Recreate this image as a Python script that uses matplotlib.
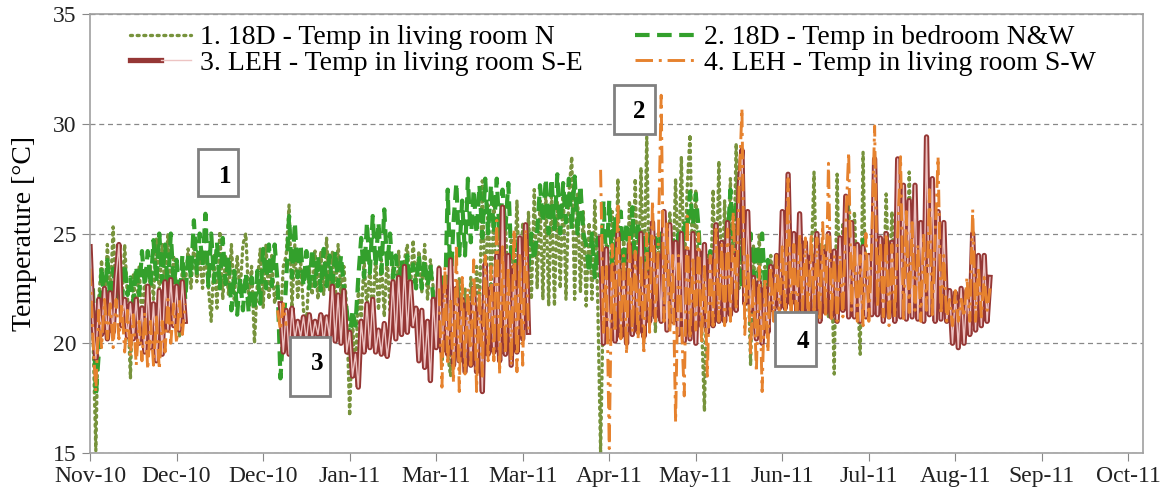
import matplotlib
matplotlib.use('Agg')
import matplotlib.pyplot as plt
from matplotlib.patches import Rectangle
from matplotlib.legend_handler import HandlerTuple
import numpy as np

nan = np.nan

# time axis: days since 1 Nov 2010, one reading per day
days = np.arange(313)

tick_days = [0, 30, 60, 90, 120, 150, 180, 210, 240, 270, 300, 330, 360]
tick_labels = ['Nov-10', 'Dec-10', 'Dec-10', 'Jan-11', 'Mar-11', 'Mar-11', 'Apr-11',
               'May-11', 'Jun-11', 'Jul-11', 'Aug-11', 'Sep-11', 'Oct-11']

# 1. 18D - living room N
temp_18d_living = [
    24.2, 20.5, 15.1, 22.0, 23.8, 21.5, 24.5, 22.0, 25.3, 22.0,   # day 0
    24.6, 21.8, 24.5, 22.0, 18.4, 23.2, 21.2, 23.5, 21.0, 23.0,
    21.5, 23.5, 22.0, 24.8, 22.3, 24.5, 22.4, 25.0, 22.2, 24.0,
    22.4, 20.3, 23.5, 22.6, 24.3, 22.5, 24.5, 22.8, 24.0, 22.5,
    24.2, 22.6, 21.0, 24.0, 21.6, 25.1, 22.0, 24.0, 22.2, 24.5,   # day 40
    22.0, 24.0, 22.3, 24.5, 25.0, 22.0, 23.5, 20.0, 22.8, 24.3,
    21.6, 24.5, 22.0, 24.0, 21.8, 22.8, 21.0, 23.5, 24.0, 26.3,
    21.6, 24.5, 22.0, 23.8, 21.5, 20.8, 23.5, 22.2, 24.2, 22.0,
    24.2, 22.2, 24.8, 22.4, 24.2, 22.0, 24.5, 22.2, 23.5, 21.5,   # day 80
    16.7, 21.0, 18.5, 22.5, 21.0, 23.8, 21.5, 23.5, 21.2, 24.0,
    21.5, 23.8, 21.2, 24.0, 21.5, 23.5, 21.2, 24.2, 22.0, 23.8,
    24.5, 22.2, 24.7, 22.5, 24.2, 22.3, 24.5, 22.0, 23.8, 22.5,
    20.0, 23.5, 19.0, 22.8, 19.5, 18.5, 22.5, 19.5, 23.0, 19.2,   # day 120
    22.5, 19.5, 23.0, 21.0, 23.5, 21.5, 27.4, 22.0, 26.3, 22.5,
    26.3, 21.6, 25.5, 22.0, 25.8, 21.8, 24.8, 22.5, 26.5, 22.0,
    25.5, 21.7, 26.0, 22.0, 27.0, 22.5, 26.5, 22.0, 27.0, 21.7,
    27.0, 21.7, 26.5, 22.5, 27.2, 22.0, 26.8, 28.5, 22.0, 26.8,   # day 160
    22.3, 26.0, 21.7, 25.5, 22.0, 26.5, 22.0, 15.0, 22.5, 24.5,
    21.0, 26.0, 21.5, 27.5, 20.5, 25.0, 21.5, 26.5, 22.0, 27.5,
    22.0, 28.0, 22.5, 29.4, 21.8, 24.5, 20.5, 25.0, 21.0, 24.0,
    22.5, 26.0, 23.0, 27.5, 23.0, 28.5, 23.2, 27.0, 29.5, 22.5,   # day 200
    27.0, 22.5, 21.0, 16.9, 24.0, 21.5, 27.0, 22.0, 28.3, 22.0,
    26.5, 22.0, 27.5, 22.5, 29.1, 22.5, 25.0, 22.0, 24.0, 19.0,
    24.5, 20.5, 25.0, 20.5, 23.5, 21.5, 24.0, 21.5, 23.8, 21.8,
    24.0, 21.5, 23.5, 22.0, 24.0, 21.8, 23.5, 22.0, 24.0, 22.0,   # day 240
    23.5, 27.8, 21.8, 24.5, 22.0, 24.5, 21.2, 23.5, 18.6, 27.7,
    21.5, 25.5, 21.5, 26.7, 22.0, 26.0, 22.5, 19.5, 28.7, 21.5,
    24.0, 21.5, 24.0, 22.0, 23.5, 22.0, 26.8, 22.5, 26.0, 22.0,
    26.0, 22.5, 25.5, 22.0, 27.8, 22.0, 24.0, nan, nan, nan,      # day 280
    nan, nan, nan, nan, nan, nan, nan, nan, nan, nan,
    nan, nan, nan, nan, nan, nan, nan, nan, nan, nan,
    nan, nan, nan,
]

# 2. 18D - bedroom N&W
temp_18d_bedroom = [
    nan, 22.5, 17.6, 19.5, 23.5, 21.5, 23.8, 22.0, 23.4, 21.8,   # day 0
    23.4, 21.8, 23.6, 22.2, 23.0, 21.8, 23.5, 22.2, 24.2, 22.6,
    24.2, 22.6, 24.7, 22.8, 25.0, 22.8, 24.5, 22.5, 25.0, 22.6,
    23.8, 21.6, 24.0, 22.0, 24.0, 23.0, 25.6, 23.2, 25.0, 23.5,
    25.9, 22.6, 25.0, 22.8, 24.6, 22.5, 24.8, 22.7, 24.0, 21.5,   # day 40
    23.3, 21.3, 23.0, 21.5, 23.2, 21.4, 23.0, 21.5, 23.3, 21.8,
    24.3, 22.5, 24.5, 22.6, 24.5, 22.8, 18.4, 20.5, 22.8, 25.8,
    23.0, 25.5, 23.0, 24.5, 22.6, 24.2, 22.5, 24.3, 22.6, 24.0,
    22.4, 24.3, 22.6, 24.0, 22.5, 24.2, 22.6, 24.0, 22.5, 21.5,   # day 80
    20.2, 21.5, 20.8, 23.0, 24.8, 23.0, 25.5, 23.2, 25.8, 23.5,
    25.5, 23.2, 26.1, 23.5, 25.0, 23.0, 24.0, 22.5, 23.8, 22.6,
    24.0, 22.4, 23.6, 22.5, 24.0, 22.5, 23.8, 22.6, 23.6, 22.0,
    20.5, 22.0, 23.0, 21.5, 27.0, 22.5, 25.5, 27.3, 24.0, 26.5,   # day 120
    24.0, 27.5, 24.6, 27.0, 25.0, 27.2, 24.8, 27.5, 25.0, 27.2,
    25.0, 27.5, 24.8, 27.0, 25.2, 27.3, 24.0, 21.8, 24.5, 22.0,
    24.2, 21.8, 23.5, 25.0, 23.8, 25.0, 27.2, 25.5, 27.5, 25.0,
    27.5, 25.2, 27.7, 25.0, 27.3, 25.5, 27.5, 25.2, 27.6, 25.0,   # day 160
    27.2, 25.0, 24.5, 23.2, 25.0, 23.0, 24.8, 23.0, 26.5, 23.5,
    26.5, 23.5, 25.8, 23.2, 26.0, 23.5, 25.5, 23.0, 26.2, 23.2,
    25.5, 23.0, 24.8, 23.2, 25.0, 23.0, 24.8, 23.2, 25.0, 23.0,
    24.8, 23.0, 24.8, 23.2, 25.0, 23.5, 25.6, 25.0, 26.9, 25.4,   # day 200
    26.8, 25.2, 22.5, 24.5, 22.0, 24.2, 22.2, 24.5, 22.0, 24.2,
    22.5, 24.5, 27.0, 24.5, 26.5, 24.8, 22.5, 24.8, 22.8, 25.0,
    22.5, 24.5, 23.0, 25.0, 22.5, 23.8, 22.0, 23.5, 22.2, 23.8,
    22.0, 23.5, 22.5, 24.0, 22.2, 23.8, 22.0, 24.0, 22.5, 23.6,   # day 240
    22.0, 24.0, 22.5, 23.8, 22.0, 23.6, 22.2, 24.0, 22.5, 23.5,
    22.0, 24.0, 22.5, 24.7, 23.5, 22.0, 23.0, 22.2, 24.7, 23.5,
    22.0, 23.0, 22.2, 23.5, 21.8, 23.0, 22.5, 23.5, 21.8, 23.0,
    22.5, 23.2, 21.8, 23.0, 22.0, 23.0, 22.0, nan, nan, nan,      # day 280
    nan, nan, nan, nan, nan, nan, nan, nan, nan, nan,
    nan, nan, nan, nan, nan, nan, nan, nan, nan, nan,
    nan, nan, nan,
]

# 3. LEH - living room S-E
temp_leh_se = [
    24.4, 21.0, 19.3, 22.0, 20.4, 22.5, 20.2, 22.3, 20.5, 23.0,   # day 0
    24.5, 20.8, 22.0, 20.3, 21.8, 20.2, 22.0, 20.0, 21.6, 19.6,
    22.6, 19.8, 21.8, 19.2, 22.4, 19.5, 22.8, 20.6, 22.9, 20.8,
    22.6, 20.6, 22.8, 21.0, nan, nan, nan, nan, nan, nan,
    nan, nan, nan, nan, nan, nan, nan, nan, nan, nan,             # day 40
    nan, nan, nan, nan, nan, nan, nan, nan, nan, nan,
    nan, nan, nan, nan, nan, nan, 21.8, 19.6, 21.5, 19.5,
    21.6, 20.2, 21.0, 20.3, 21.2, 20.1, 21.3, 20.2, 21.0, 20.4,
    21.3, 20.0, 21.2, 20.3, 22.6, 20.1, 22.2, 20.0, 22.4, 19.6,   # day 80
    20.5, 18.5, 19.5, 18.0, 21.0, 19.6, 21.8, 19.8, 22.0, 19.6,
    20.6, 19.5, 20.9, 19.4, 20.5, 22.8, 20.2, 23.0, 20.4, 23.5,
    20.5, 22.8, 20.8, 21.6, 19.2, 21.5, 18.9, 21.0, 18.3, 22.0,
    19.8, 23.4, 19.6, 22.6, 19.5, 23.8, 19.0, 22.5, 19.2, 22.0,   # day 120
    18.7, 21.8, 19.0, 22.5, 18.7, 21.6, 17.8, 23.6, 19.5, 22.5,
    19.6, 24.0, 19.2, 26.2, 19.5, 24.0, 19.0, 23.5, 19.6, 24.8,
    20.2, 25.4, 20.5, nan, nan, nan, nan, nan, nan, nan,
    nan, nan, nan, nan, nan, nan, nan, nan, nan, nan,             # day 160
    nan, nan, nan, nan, nan, nan, nan, 24.8, 20.0, 24.3,
    20.2, 23.5, 20.1, 25.0, 20.3, 23.2, 20.0, 24.5, 20.4, 24.0,
    20.5, 25.0, 20.3, 23.2, 21.0, 25.5, 21.2, 24.0, 21.0, 26.0,
    20.6, 25.4, 21.0, 24.6, 20.4, 25.0, 20.1, 24.2, 20.2, 25.0,   # day 200
    20.0, 24.2, 20.8, 24.5, 20.5, 23.8, 20.8, 25.4, 21.0, 24.6,
    21.0, 25.5, 21.3, 24.0, 21.5, 27.0, 28.8, 21.8, 26.0, 21.5,
    23.0, 20.2, 22.8, 20.0, 22.5, 20.5, 23.5, 21.5, 24.0, 21.6,
    26.0, 21.6, 27.7, 21.8, 25.0, 21.5, 25.9, 21.2, 24.6, 20.6,   # day 240
    24.0, 20.9, 25.0, 21.0, 24.2, 21.4, 25.0, 21.2, 24.2, 21.0,
    24.8, 21.5, 26.7, 21.2, 25.5, 21.2, 24.5, 21.0, 24.4, 21.2,
    24.0, 21.3, 28.4, 21.3, 24.8, 21.0, 25.0, 21.2, 24.6, 21.0,
    28.4, 21.2, 27.2, 21.1, 26.5, 21.2, 27.2, 21.1, 25.5, 21.0,   # day 280
    29.4, 21.3, 27.5, 21.0, 26.0, 21.1, 25.5, 21.0, 22.4, 20.0,
    22.3, 19.8, 22.5, 20.0, 22.4, 20.4, 25.0, 20.6, 24.0, 20.8,
    24.0, 21.0, 23.0,
]

# 4. LEH - living room S-W
temp_leh_sw = [
    23.4, 20.2, 17.8, 21.5, 19.8, 22.0, 20.2, 21.8, 19.8, 22.0,   # day 0
    20.2, 21.8, 19.6, 21.5, 19.4, 21.3, 19.0, 21.0, 19.2, 21.4,
    18.8, 21.0, 19.0, 21.2, 18.8, 21.0, 19.6, 22.0, 20.0, 21.8,
    20.0, 22.0, 20.4, 21.8, nan, nan, nan, nan, nan, nan,
    nan, nan, nan, nan, nan, nan, nan, nan, nan, nan,             # day 40
    nan, nan, nan, nan, nan, nan, nan, nan, nan, nan,
    nan, nan, nan, nan, nan, 21.5, 20.6, 21.8, 20.8, nan,
    nan, nan, nan, nan, nan, nan, nan, nan, nan, nan,
    nan, nan, nan, nan, nan, nan, nan, nan, nan, nan,             # day 80
    nan, nan, nan, nan, nan, nan, nan, nan, nan, nan,
    nan, nan, nan, nan, nan, nan, nan, nan, nan, nan,
    nan, nan, nan, nan, nan, nan, nan, nan, nan, nan,
    nan, 22.5, 18.0, 23.5, 19.0, 22.0, 18.2, 24.5, 17.8, 23.0,    # day 120
    18.6, 22.5, 19.0, 23.8, 17.8, 22.5, 18.5, 24.0, 19.2, 23.5,
    19.2, 25.6, 18.6, 24.4, 19.5, 23.5, 19.0, 25.2, 18.7, 24.0,
    19.0, 25.2, 20.5, nan, nan, nan, nan, nan, nan, nan,
    nan, nan, nan, nan, nan, nan, nan, nan, nan, nan,             # day 160
    nan, nan, nan, nan, nan, nan, nan, 27.9, 20.5, 23.5,
    15.2, 24.5, 20.5, 26.4, 20.2, 24.0, 19.5, 25.0, 20.5, 24.2,
    20.2, 24.0, 19.5, 25.0, 20.5, 26.5, 21.0, 24.5, 31.3, 21.0,
    25.5, 20.5, 24.0, 16.4, 24.0, 21.0, 17.6, 25.8, 20.2, 23.8,   # day 200
    20.6, 25.0, 20.0, 23.5, 18.5, 24.0, 20.8, 25.2, 21.0, 24.5,
    20.8, 25.2, 21.0, 26.0, 21.5, 27.0, 30.7, 20.4, 24.0, 19.5,
    23.0, 18.7, 23.5, 17.8, 23.0, 19.6, 23.5, 21.0, 24.0, 21.2,
    24.5, 21.0, 27.5, 21.0, 24.5, 20.8, 25.0, 21.5, 24.8, 21.0,   # day 240
    25.0, 21.5, 24.8, 21.0, 25.5, 21.2, 28.2, 21.0, 24.0, 21.0,
    24.0, 21.2, 25.5, 28.7, 21.5, 24.5, 21.0, 24.0, 20.8, 25.0,
    21.0, 24.5, 29.9, 21.6, 24.6, 21.2, 25.0, 20.8, 24.5, 21.2,
    25.0, 28.5, 21.0, 26.0, 21.4, 25.5, 21.5, 24.5, 21.0, 25.0,   # day 280
    21.5, 27.0, 21.3, 25.0, 28.5, 21.3, 24.0, 21.0, 22.0, 20.8,
    22.4, 21.0, 22.0, 21.2, 23.0, 21.0, 26.1, 21.0, 23.5, 21.2,
    23.0, 21.5, 22.5,
]

c_olive = '#77933C'
c_green = '#33A02C'
c_red = '#953735'
c_pink = '#EDC4C3'
c_orange = '#E6822E'

plt.rcParams['font.family'] = ['Liberation Serif', 'DejaVu Serif']

fig = plt.figure(figsize=(11.65, 4.95), dpi=100)
ax = fig.add_axes([0.0773, 0.0848, 0.9037, 0.8869])

l1, = ax.plot(days, temp_18d_living, color=c_olive, lw=2.4,
              linestyle=(0, (0.6, 1.4)), dash_capstyle='round')
l2, = ax.plot(days, temp_18d_bedroom, color=c_green, lw=3.0,
              linestyle=(0, (3.5, 1.8)))
l3a, = ax.plot(days, temp_leh_se, color=c_red, lw=3.8)
l3b, = ax.plot(days, temp_leh_se, color=c_pink, lw=1.0)
l4, = ax.plot(days, temp_leh_sw, color=c_orange, lw=2.1,
              linestyle=(0, (6, 2, 1, 2)))

ax.set_xlim(0, 365)
ax.set_ylim(15, 35)
ax.set_xticks(tick_days)
ax.set_xticklabels(tick_labels)
ax.set_yticks([15, 20, 25, 30, 35])
ax.tick_params(axis='both', labelsize=17, length=6, color='#888888',
               labelcolor='#222222', direction='out')
ax.set_ylabel('Temperature [°C]', fontsize=20)
ax.yaxis.set_label_coords(-0.05, 0.5)

ax.set_axisbelow(True)
ax.yaxis.grid(True, color='#888888', lw=0.9, linestyle=(0, (4, 3)))
for sp in ax.spines.values():
    sp.set_color('#A0A0A0')
    sp.set_linewidth(1.2)

leg = ax.legend([l1, (l3a, l3b), l2, l4],
                ['1. 18D - Temp in living room N',
                 '3. LEH - Temp in living room S-E',
                 '2. 18D - Temp in bedroom N&W',
                 '4. LEH - Temp in living room S-W'],
                handler_map={tuple: HandlerTuple(ndivide=None, pad=0)},
                ncol=2, frameon=False, fontsize=20, loc='upper left',
                bbox_to_anchor=(0.038, 0.975), handlelength=2.2,
                handletextpad=0.3, columnspacing=1.9, labelspacing=0.0,
                borderaxespad=0, borderpad=0)

# numbered boxes
boxes = [('1', 37.4, 26.7, 13.8, 2.15, 46.8, 27.6),
         ('2', 181.5, 29.55, 14.5, 2.2, 190.5, 30.55),
         ('3', 69.3, 17.6, 14.0, 2.68, 78.6, 19.1),
         ('4', 237.6, 18.95, 14.2, 2.47, 247.0, 20.1)]
for lab, bx, by, bw, bh, tx, ty in boxes:
    ax.add_patch(Rectangle((bx, by), bw, bh, facecolor='white',
                           edgecolor='#808080', lw=2, zorder=10))
    ax.text(tx, ty, lab, fontsize=18, fontweight='bold', ha='center',
            va='center', zorder=11)

fig.savefig('out.png', dpi=100)
